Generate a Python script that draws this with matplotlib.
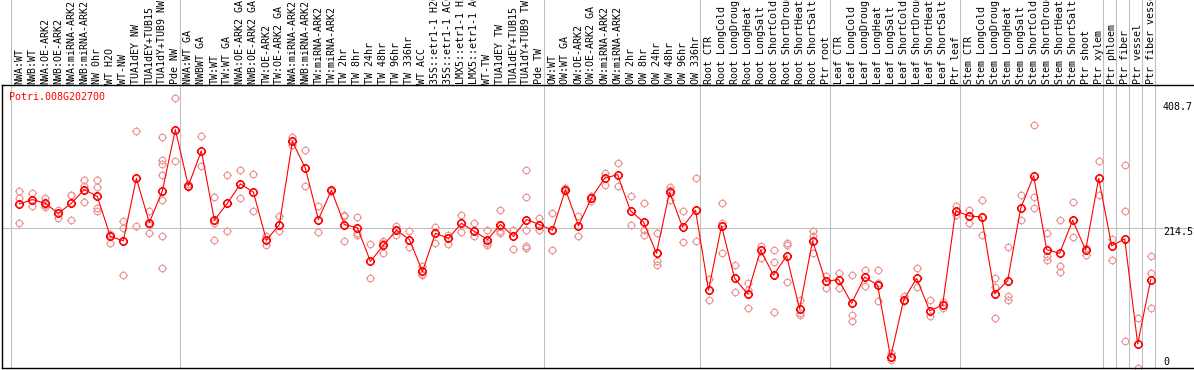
import matplotlib
matplotlib.use("Agg")
import matplotlib.pyplot as plt
from matplotlib.path import Path
import numpy as np

plt.rcParams['font.family'] = ['DejaVu Sans Mono']

# column labels (sample names)
labels = ["NWA:WT", "NWB:WT", "NWA:OE-ARK2", "NWB:OE-ARK2", "NWA:miRNA-ARK2", "NWB:miRNA-ARK2",
          "NW 0hr", "WT H2O", "WT-NW", "TUA1dEY NW", "TUA1dEY+TUB15", "TUA1dY+TUB9 NW", "Pde NW",
          "NWA:WT GA", "NWBWT GA", "TW:WT", "TW:WT GA", "NWA:OE-ARK2 GA", "NWB:OE-ARK2 GA",
          "TW:OE-ARK2", "TW:OE-ARK2 GA", "NWA:miRNA-ARK2", "NWB:miRNA-ARK2", "TW:miRNA-ARK2",
          "TW:miRNA-ARK2", "TW 2hr", "TW 8hr", "TW 24hr", "TW 48hr", "TW 96hr", "TW 336hr", "WT ACC",
          "35S::etr1-1 H2O", "35S::etr1-1 ACC", "LMX5::etr1-1 H2O", "LMX5::etr1-1 ACC", "WT-TW",
          "TUA1dEY TW", "TUA1dEY+TUB15", "TUA1dY+TUB9 TW", "Pde TW",
          "OW:WT", "OW:WT GA", "OW:OE-ARK2", "OW:OE-ARK2 GA", "OW:miRNA-ARK2", "OW:miRNA-ARK2",
          "OW 2hr", "OW 8hr", "OW 24hr", "OW 48hr", "OW 96hr", "OW 336hr",
          "Root CTR", "Root LongCold", "Root LongDrought", "Root LongHeat", "Root LongSalt",
          "Root ShortCold", "Root ShortDrought", "Root ShortHeat", "Root ShortSalt", "Ptr root",
          "Leaf CTR", "Leaf LongCold", "Leaf LongDrought", "Leaf LongHeat", "Leaf LongSalt",
          "Leaf ShortCold", "Leaf ShortDrought", "Leaf ShortHeat", "Leaf ShortSalt", "Ptr leaf",
          "Stem CTR", "Stem LongCold", "Stem LongDrought", "Stem LongHeat", "Stem LongSalt",
          "Stem ShortCold", "Stem ShortDrought", "Stem ShortHeat", "Stem ShortSalt", "Ptr shoot",
          "Ptr xylem", "Ptr phloem", "Ptr fiber", "Ptr vessel", "Ptr fiber vessel"]

# group boundaries (index of first column of each group)
group_starts = [0, 13, 41, 53, 63, 73, 84, 85, 86, 87, 88]

gene = "Potri.008G202700"

means = [253, 260, 254, 238, 254, 276, 265, 201, 194, 294,
         223, 274, 372, 282, 338, 227, 254, 285, 272, 195,
         220, 353, 310, 228, 275, 220, 215, 161, 187, 211,
         196, 145, 206, 198, 222, 209, 196, 220, 201, 228,
         220, 211, 276, 218, 263, 294, 300, 242, 224, 174,
         272, 216, 243, 115, 218, 134, 109, 179, 139, 170,
         85, 194, 129, 132, 94, 136, 123, 7.5, 99, 134,
         82, 91, 242, 234, 232, 109, 130, 246, 298, 180,
         174, 227, 179, 294, 186, 197, 29, 132]

reps = [[274, 262, 222], [271, 260, 249], [263, 252, 248], [244, 231], [268, 267, 227],
        [291, 282, 256], [291, 280, 246, 242], [205, 191], [226, 215, 139], [369, 218],
        [241, 220, 207], [360, 324, 317, 299, 260, 202, 150], [422, 322], [285, 280], [362, 314],
        [264, 223, 195], [299, 210], [307, 263], [301, 242], [202, 188],
        [233, 210], [360, 347], [339, 282], [250, 208], [276, 274],
        [235, 233, 194], [232, 206, 203], [189, 134], [194, 191, 174], [217, 203],
        [210, 184], [153, 141, 139], [216, 191], [203, 189], [235, 208],
        [222, 201], [211, 190, 187], [243, 209, 206], [211, 181], [307, 264, 211, 185, 182],
        [230, 211], [238, 180], [279, 273], [234, 202], [266, 258],
        [303, 283], [318, 282], [266, 219], [254, 212, 204], [206, 161, 155],
        [280, 276, 259], [242, 192], [294, 194], [133, 99], [254, 223, 174],
        [155, 112], [127, 115, 86], [186, 166], [179, 160, 80], [190, 188, 128],
        [99, 78, 75], [209, 201, 174], [137, 118], [142, 118], [140, 75, 66],
        [147, 122], [147, 127, 97], [15, 3], [105, 97], [150, 120],
        [99, 73], [96, 86], [249, 235], [244, 223], [260, 203],
        [135, 120, 71], [184, 105, 100], [267, 227], [380, 264, 246], [206, 170, 164],
        [227, 153, 144], [256, 200], [182, 172], [322, 268], [197, 164],
        [316, 242, 34], [70, -10], [170, 142, 86]]

# circle marker with four little stubs, like the original pixel markers
stub = 1.28
circ = Path.unit_circle()
stubs = Path([(1, 0), (stub, 0), (-1, 0), (-stub, 0), (0, 1), (0, stub), (0, -1), (0, -stub)],
             [Path.MOVETO, Path.LINETO] * 4)
dot = Path.make_compound_path(circ, stubs)

W, H = 1194, 370
fig = plt.figure(figsize=(W / 100, H / 100), dpi=100)
ax = fig.add_axes([2 / W, 2 / H, 1192 / W, 283 / H])
lab = fig.add_axes([2 / W, 285 / H, 1192 / W, 85 / H], sharex=ax)

x = np.arange(len(means))
grid_c = '#c0c0c0'

for b in group_starts:
    ax.axvline(b - 0.66, color=grid_c, lw=0.8, zorder=0)
    lab.axvline(b - 0.66, color=grid_c, lw=0.8, zorder=0)
ax.axhline(214.5, color=grid_c, lw=0.8, zorder=0)

# replicate points
for i, r in enumerate(reps):
    ax.plot([i] * len(r), r, marker=dot, ls='none', mfc='none', mec='#ec9a9a', ms=6.0,
            mew=0.85, zorder=2, clip_on=False)

# mean line + markers
ax.plot(x, means, '-', color='red', lw=0.8, zorder=3)
ax.plot(x, means, marker=dot, ls='none', mfc='none', mec='red', ms=6.6, mew=1.15, zorder=4)

ax.set_xlim(-1.33, 90.33)
ax.set_ylim(-9.6, 443.4)
ax.set_xticks([])
ax.set_yticks([])
for s in ['left', 'bottom', 'top']:
    ax.spines[s].set_color('black')
    ax.spines[s].set_linewidth(1.0)
ax.spines['right'].set_visible(False)

ax.text(0.0061, 423.7, gene, color='red', fontsize=7.2, va='center', ha='left',
        transform=ax.get_yaxis_transform())

for val, txt in [(408.7, "408.7"), (208, "214.5"), (0, "0")]:
    ax.text(0.974, val, txt, fontsize=7.2, va='center', ha='left',
            transform=ax.get_yaxis_transform())

lab.set_ylim(0, 85)
lab.axis('off')
for i, t in enumerate(labels):
    lab.text(i, 1.5, t, rotation=90, fontsize=7.2, ha='center', va='bottom', clip_on=False)

fig.savefig("out.png", dpi=100)
